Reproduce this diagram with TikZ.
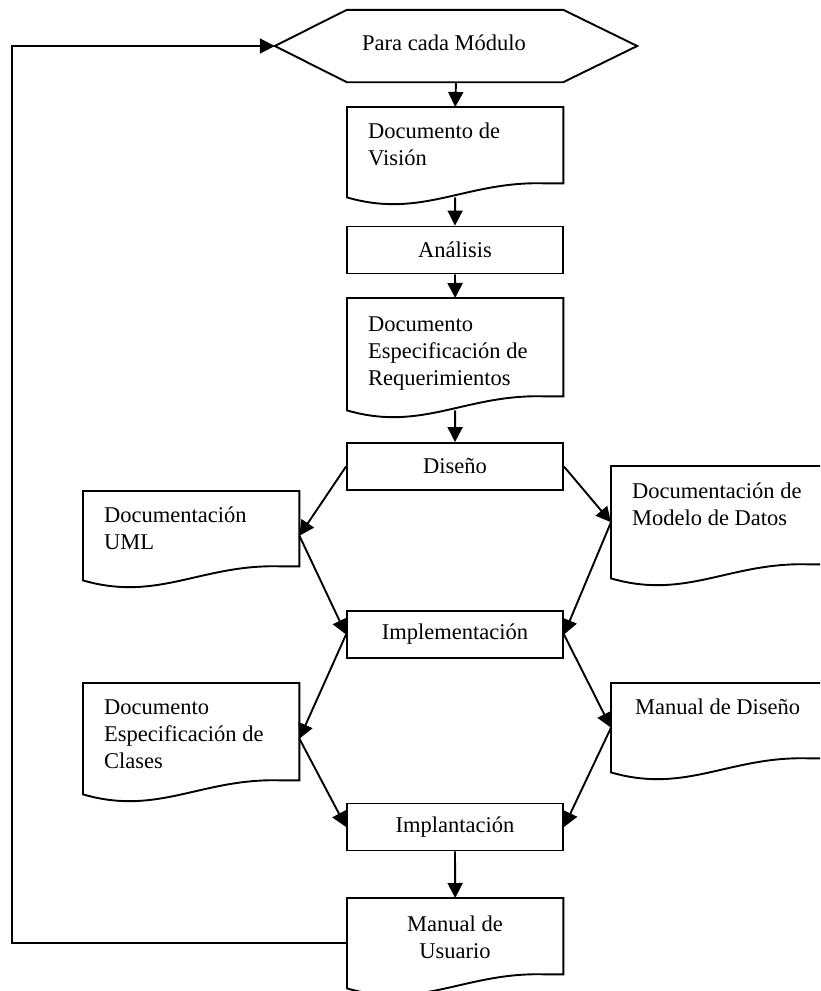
\documentclass[tikz,border=0pt]{standalone}
\usepackage{fontspec}
\setmainfont{Liberation Serif}
\usetikzlibrary{arrows.meta,calc}

% Outline of a flowchart "document" symbol drawn around a frame node
\newcommand\docoutline[1]{%
  \draw[outline] let \p1=(#1.south west), \p2=(#1.north east), \n1={\x2-\x1} in
    (\x1,\y1) -- (\x1,\y2) -- (\x2,\y2) -- (\x2,\y1+14pt)
    -- (\x2-0.08*\n1,\y1+14pt)
    .. controls (\x1+0.55*\n1,\y1+17pt) and (\x1+0.35*\n1,\y1-22pt) .. (\x1,\y1) -- cycle;
}

\begin{document}
\begin{tikzpicture}[x=1pt,y=-1pt,
  every node/.style={font=\fontsize{22.5}{27}\selectfont},
  outline/.style={draw=black, line width=1.9pt, line join=miter},
  procbox/.style={outline, rectangle, minimum width=216, minimum height=47, inner sep=0},
  docframe/.style={rectangle, inner sep=0, minimum width=216, anchor=north west},
  doctext/.style={anchor=base west, align=left, inner sep=0},
  flow/.style={line width=1.9pt, -{Triangle[length=15pt,width=15pt]}},
]
\path[use as bounding box, clip] (0,0) rectangle (820,991);

% start of the loop
\node[rectangle, minimum width=362, minimum height=72, inner sep=0] (hex) at (456,46) {};
\draw[outline] (hex.west) -- ($(hex.north west)+(72,0)$) -- ($(hex.north east)+(-74,0)$)
  -- (hex.east) -- ($(hex.south east)+(-74,0)$) -- ($(hex.south west)+(72,0)$) -- cycle;
\node[inner sep=0, anchor=base west] (hexT) at (362,50) {Para cada Módulo};

% central column (text nodes are placed by the baseline of their last line)
\node[docframe, minimum height=90] (vis) at (347,107) {};
\docoutline{vis}
\node[doctext] (visT) at (368,165) {Documento de\\Visión};

\node[procbox] (ana) at (455,250) {Análisis};

\node[docframe, minimum height=112] (esp) at (347,298) {};
\docoutline{esp}
\node[doctext] (espT) at (368,385) {Documento\\Especificación de\\Requerimientos};

\node[procbox] (dis) at (455,466.5) {Diseño};

% design documents
\node[docframe, minimum height=89] (uml) at (83,491) {};
\docoutline{uml}
\node[doctext] (umlT) at (104,549) {Documentación\\UML};

\node[docframe, minimum height=112] (mod) at (611,466) {};
\docoutline{mod}
\node[doctext] (modT) at (632,525) {Documentación de\\Modelo de Datos};

\node[procbox] (impl) at (455,634.5) {Implementación};

% implementation documents
\node[docframe, minimum height=111] (cla) at (83,683) {};
\docoutline{cla}
\node[doctext] (claT) at (104,768) {Documento\\Especificación de\\Clases};

\node[docframe, minimum height=89] (man) at (611,683) {};
\docoutline{man}
\node[doctext] (manT) at (635,714) {Manual de Diseño};

\node[procbox] (plan) at (455,827) {Implantación};

\node[docframe, minimum height=90] (usu) at (347,898) {};
\docoutline{usu}
\node[anchor=base, align=center, inner sep=0] (usuT) at (455,958) {Manual de\\Usuario};

% connectors
\draw[flow] (hex.south) -- (vis.north);
\draw[flow] (vis.south) -- (ana.north);
\draw[flow] (ana.south) -- (esp.north);
\draw[flow] (esp.south) -- (dis.north);
\draw[flow] (dis.west) -- (uml.east);
\draw[flow] (dis.east) -- (mod.west);
\draw[flow] (uml.east) -- (impl.west);
\draw[flow] (mod.west) -- (impl.east);
\draw[flow] (impl.west) -- (cla.east);
\draw[flow] (impl.east) -- (man.west);
\draw[flow] (cla.east) -- (plan.west);
\draw[flow] (man.west) -- (plan.east);
\draw[flow] (plan.south) -- (usu.north);
\coordinate (loopx) at (12,0);
\draw[flow] (usu.west) -- (usu.west -| loopx) |- (hex.west);
\end{tikzpicture}
\end{document}
